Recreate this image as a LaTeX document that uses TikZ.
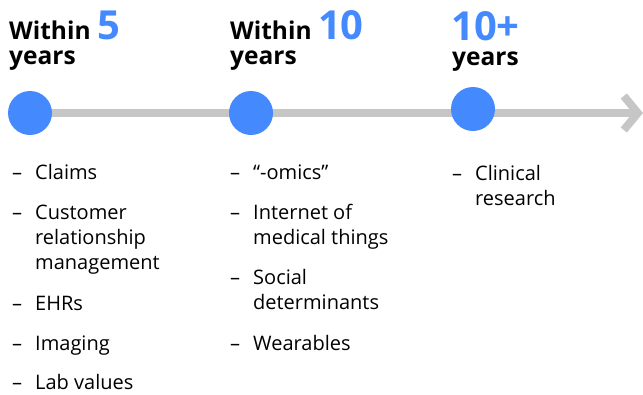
\documentclass[tikz,border=0pt]{standalone}
\usepackage{fontspec}
\usepackage{xcolor}
\setmainfont{Open Sans}
\usetikzlibrary{arrows.meta,positioning}
\definecolor{plex_blue}{RGB}{69,137,255}
\definecolor{rail_gray}{RGB}{198,198,198}

\begin{document}
\begin{tikzpicture}[x=1pt, y=-1pt,
    stop/.style={circle, fill=plex_blue, minimum size=44pt, inner sep=0pt},
    head/.style={anchor=base west, inner sep=0pt, font=\fontsize{24.5}{26}\selectfont\bfseries},
    bignum/.style={text=plex_blue, text depth=0pt, font=\fontsize{40}{40}\selectfont\bfseries},
    bulletmark/.style={anchor=base west, inner sep=0pt, font=\fontsize{20}{25}\selectfont},
    item/.style={anchor=base west, inner sep=0pt, align=left, font=\fontsize{20}{25}\selectfont}]
  \useasboundingbox (0,0) rectangle (643,394);
  % rail with the three stops on top
  \coordinate (c5) at (30,113);
  \coordinate (c10) at (251,113);
  \coordinate (c10p) at (473,109);
  \coordinate (tip) at (643,113);
  \draw[rail_gray, line width=8pt, -{Straight Barb[length=14pt, width=34pt]}] (c5) -- (tip);
  \node[stop] (s5) at (c5) {};
  \node[stop] (s10) at (c10) {};
  \node[stop] (s10p) at (c10p) {};
  % headings
  \node[head] (h5) at (9,39) {Within \textcolor{plex_blue}{\fontsize{40}{40}\selectfont 5}};
  \node[head] (y5) at (9,64) {years};
  \node[head] (h10) at (230,39) {Within \textcolor{plex_blue}{\fontsize{40}{40}\selectfont 10}};
  \node[head] (y10) at (230,64) {years};
  \node[head, bignum] (h10p) at (451,40) {10+};
  \node[head] (y10p) at (452,65) {years};
  % lists below each stop (first and last baseline of each entry)
  \foreach \x/\y/\yy/\txt [count=\i] in {12/179/179/Claims,
      12/219/269/{Customer\\relationship\\management},
      12/310/310/EHRs, 12/350/350/Imaging, 12/389/389/Lab values,
      230/179/179/“-omics”, 230/219/244/{Internet of\\medical things},
      230/284/309/{Social\\determinants}, 230/350/350/Wearables,
      452/180/205/{Clinical\\research}}{
    \node[bulletmark] (d\i) at (\x,\y) {–};
    \node[item] (t\i) at (\x+23,\yy) {\txt};
  }
\end{tikzpicture}
\end{document}
